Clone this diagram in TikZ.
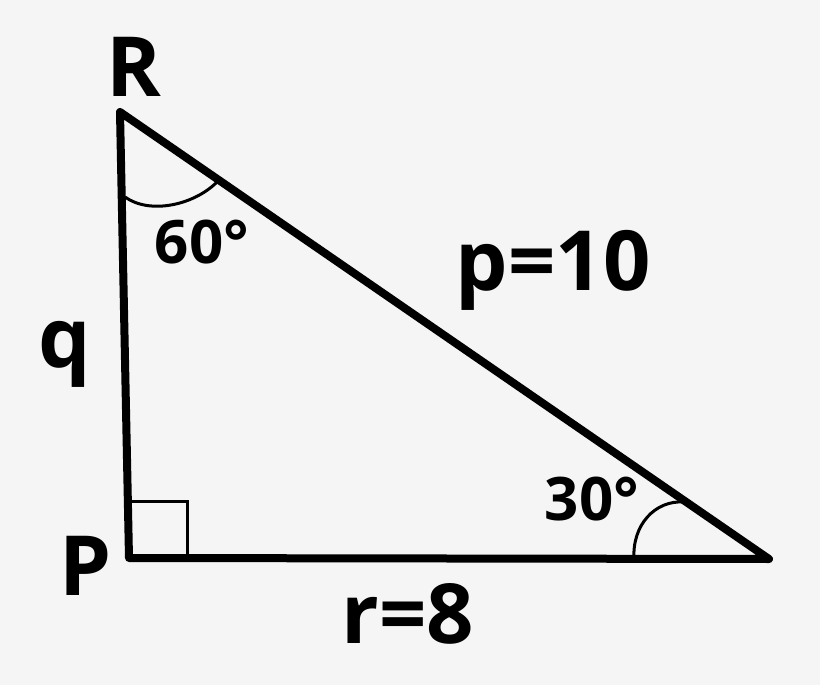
\documentclass[tikz,border=0pt]{standalone}
\usepackage{fontspec}
\setmainfont{Open Sans}[BoldFont={* Bold}]
\definecolor{bg}{HTML}{F5F5F5}
\begin{document}
\begin{tikzpicture}[x=1pt,y=-1pt,
  lbl/.style={inner sep=0pt,anchor=base,font=\bfseries\fontsize{83}{83}\selectfont},
  ang/.style={inner sep=0pt,anchor=base,font=\bfseries\fontsize{60}{60}\selectfont},
  side/.style={line width=8pt,line join=round,line cap=round},
  thin/.style={line width=3pt}]
\fill[bg] (0,0) rectangle (820,685);
\useasboundingbox (0,0) rectangle (820,685);
\coordinate (R) at (120,112);
\coordinate (P) at (129,558);
\coordinate (Q) at (769,559);
\coordinate (S1) at (129,501);
\coordinate (S2) at (187,501);
\coordinate (S3) at (187,558);
\draw[thin] (S1) -- (S2) -- (S3);
\draw[side] (R) -- (P) -- (Q) -- cycle;
\coordinate (A1) at (125,197);
\coordinate (A2) at (218,181);
\draw[thin] (A1) .. controls (150,215) and (195,205) .. (A2);
\coordinate (B1) at (634,559);
\coordinate (B2) at (684,502);
\draw[thin] (B1) .. controls (632,525) and (655,500) .. (B2);
\node[lbl] (lR) at (134,97) {R};
\node[lbl] (lP) at (86,595) {P};
\node[lbl] (lq) at (65,367) {q};
\node[lbl] (lp) at (553,290) {p=10};
\node[lbl] (lr) at (408,643) {r=8};
\node[ang] (a60) at (202,263) {60°};
\node[ang] (a30) at (592,520) {30°};
\end{tikzpicture}
\end{document}
